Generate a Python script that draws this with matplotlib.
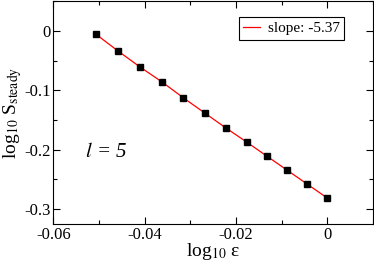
import matplotlib
matplotlib.use('Agg')
import matplotlib.pyplot as plt
from matplotlib.ticker import MultipleLocator

plt.rcParams['font.family'] = ['Liberation Serif', 'DejaVu Serif']
plt.rcParams['mathtext.fontset'] = 'stix'

# log10(epsilon) and log10(S_steady)
log_eps = [-0.0506, -0.0458, -0.0410, -0.0362, -0.0315, -0.0269,
           -0.0223, -0.0177, -0.0132, -0.0088, -0.0044, 0.0]
log_s = [-0.0062, -0.0342, -0.0610, -0.0861, -0.1129, -0.1380,
         -0.1630, -0.1870, -0.2111, -0.2345, -0.2580, -0.2814]
fit_label = 'slope: -5.37'

fig = plt.figure(figsize=(3.74, 2.62), dpi=100)
ax = fig.add_axes([0.1425, 0.145, 0.855, 0.851])

ax.plot(log_eps, log_s, color='red', lw=0.9, label=fit_label, zorder=2)
ax.plot(log_eps, log_s, ls='none', marker='s', ms=4.3, color='black', zorder=3)

ax.set_xlim(-0.06, 0.01)
ax.set_ylim(-0.325, 0.05)
ax.xaxis.set_major_locator(MultipleLocator(0.02))
ax.xaxis.set_minor_locator(MultipleLocator(0.01))
ax.yaxis.set_major_locator(MultipleLocator(0.1))
ax.yaxis.set_minor_locator(MultipleLocator(0.05))
ax.set_xticks([-0.06, -0.04, -0.02, 0])
ax.set_xticklabels(['-0.06', '-0.04', '-0.02', '0'])
ax.set_yticks([0, -0.1, -0.2, -0.3])
ax.set_yticklabels(['0', '-0.1', '-0.2', '-0.3'])
ax.tick_params(which='both', direction='in', top=True, right=True, labelsize=12)
ax.tick_params(which='major', length=5, width=0.8, pad=2)
ax.tick_params(which='minor', length=3, width=0.8)

ax.set_xlabel('log$_{10}$ ε', fontsize=14, labelpad=-1)
ax.set_ylabel('log$_{10}$ S$_{\\mathrm{steady}}$', fontsize=14, labelpad=0)

ax.text(0.1, 0.3, r'$l$ = 5', transform=ax.transAxes, fontsize=15,
        fontstyle='italic')

leg = ax.legend(loc='upper right', bbox_to_anchor=(0.91, 0.93), fontsize=11,
                handlelength=1.1, handletextpad=0.5, borderpad=0.3,
                fancybox=False, framealpha=1, borderaxespad=0)
leg.get_frame().set_edgecolor('black')
leg.get_frame().set_linewidth(0.8)

fig.savefig('out.png', dpi=100)
